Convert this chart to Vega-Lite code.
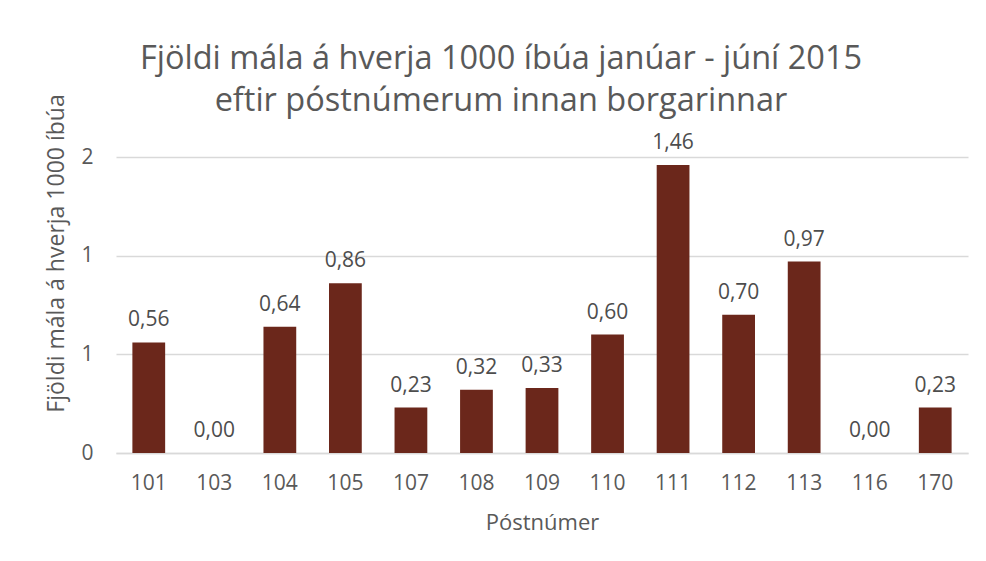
{
  "$schema": "https://vega.github.io/schema/vega-lite/v6.json",
  "width": 852,
  "height": 296,
  "autosize": {"type": "none"},
  "padding": {"left": 116, "top": 157, "right": 18, "bottom": 108},
  "background": "white",
  "config": {
    "font": "Open Sans",
    "view": {"stroke": null},
    "locale": {"number": {"decimal": ",", "thousands": ".", "grouping": [3], "currency": ["", " kr."]}}
  },
  "title": {
    "text": ["Fjöldi mála á hverja 1000 íbúa janúar - júní 2015", "eftir póstnúmerum innan borgarinnar"],
    "font": "Open Sans",
    "fontSize": 32.5,
    "fontWeight": "normal",
    "color": "#595959",
    "anchor": "middle",
    "dx": -41,
    "lineHeight": 42,
    "offset": -24
  },
  "data": {
    "values": [
      {"postnumer": "101", "fjoldi": 0.56},
      {"postnumer": "103", "fjoldi": 0.00},
      {"postnumer": "104", "fjoldi": 0.64},
      {"postnumer": "105", "fjoldi": 0.86},
      {"postnumer": "107", "fjoldi": 0.23},
      {"postnumer": "108", "fjoldi": 0.32},
      {"postnumer": "109", "fjoldi": 0.33},
      {"postnumer": "110", "fjoldi": 0.60},
      {"postnumer": "111", "fjoldi": 1.46},
      {"postnumer": "112", "fjoldi": 0.70},
      {"postnumer": "113", "fjoldi": 0.97},
      {"postnumer": "116", "fjoldi": 0.00},
      {"postnumer": "170", "fjoldi": 0.23}
    ]
  },
  "encoding": {
    "x": {
      "field": "postnumer",
      "type": "nominal",
      "sort": null,
      "scale": {"paddingInner": 0.5, "paddingOuter": 0.25},
      "axis": {
        "title": "Póstnúmer",
        "titleFont": "Open Sans",
        "titleFontSize": 22,
        "titleFontWeight": "normal",
        "titleColor": "#595959",
        "titlePadding": 19,
        "labelFont": "Open Sans",
        "labelFontSize": 21,
        "labelColor": "#595959",
        "labelAngle": 0,
        "labelPadding": 19,
        "ticks": false,
        "domainColor": "#d9d9d9",
        "domainWidth": 1.5
      }
    },
    "y": {
      "field": "fjoldi",
      "type": "quantitative",
      "scale": {"domain": [0, 1.5], "nice": false},
      "axis": {
        "title": "Fjöldi mála á hverja 1000 íbúa",
        "titleFont": "Open Sans",
        "titleFontSize": 23,
        "titleFontWeight": "normal",
        "titleColor": "#595959",
        "titlePadding": 12,
        "titleY": 96,
        "labelFont": "Open Sans",
        "labelFontSize": 21,
        "labelColor": "#595959",
        "labelPadding": 23,
        "values": [0, 0.5, 1, 1.5],
        "format": ".0f",
        "ticks": false,
        "domain": false,
        "grid": true,
        "gridColor": "#d9d9d9",
        "gridWidth": 1.5
      }
    }
  },
  "layer": [
    {
      "mark": {"type": "bar", "color": "#6b271b"}
    },
    {
      "mark": {"type": "text", "baseline": "alphabetic", "dy": -16, "fontSize": 21, "color": "#4d4d4d", "font": "Open Sans"},
      "encoding": {
        "text": {"field": "fjoldi", "type": "quantitative", "format": ".2f"}
      }
    }
  ]
}
